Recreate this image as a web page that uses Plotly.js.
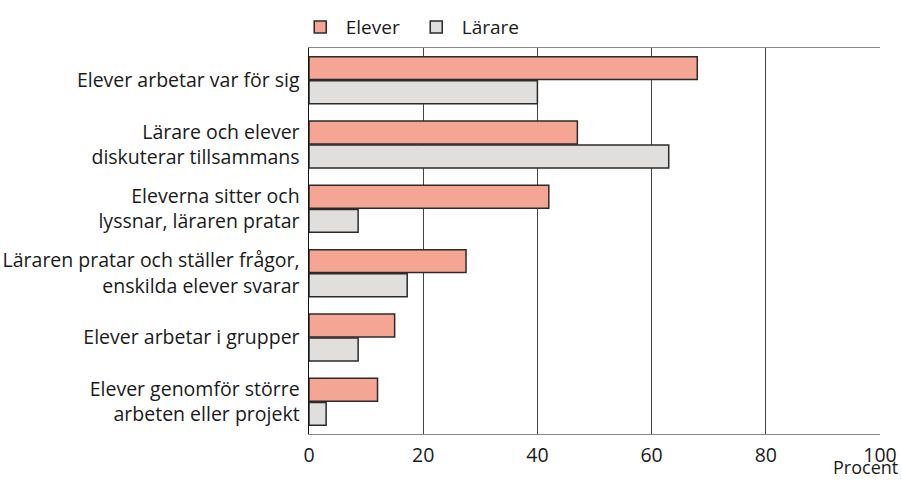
<!DOCTYPE html>
<html>
<head>
<meta charset="utf-8">
<script src="https://cdn.plot.ly/plotly-3.0.1.min.js"></script>
<style>html,body{margin:0;padding:0;background:#fff;}#chart{width:902px;height:481px;}</style>
</head>
<body>
<div id="chart"></div>
<script>
const categories = [
  "Elever arbetar var för sig",
  "Lärare och elever<br>diskuterar tillsammans",
  "Eleverna sitter och<br>lyssnar, läraren pratar",
  "Läraren pratar och ställer frågor,<br>enskilda elever svarar",
  "Elever arbetar i grupper",
  "Elever genomför större<br>arbeten eller projekt"
];
const elever = [68, 47, 42, 27.5, 15, 12];
const larare = [40, 63, 8.6, 17.2, 8.6, 3];
const seriesNames = ["Elever", "Lärare"];
const xTicks = [0, 20, 40, 60, 80, 100];

const font = "'Open Sans', 'Noto Sans', sans-serif";
const traces = [
  {type:'bar', orientation:'h', name:seriesNames[0], y:categories, x:elever,
   marker:{color:'#F4A594', line:{color:'#2b2b2b', width:1.5}}},
  {type:'bar', orientation:'h', name:seriesNames[1], y:categories, x:larare,
   marker:{color:'#E0DFDD', line:{color:'#2b2b2b', width:1.5}}}
];
const layout = {
  width:902, height:481,
  margin:{l:309, r:22, t:48, b:47},
  paper_bgcolor:'#fff', plot_bgcolor:'#fff',
  font:{family:font, size:19, color:'#1a1a1a'},
  barmode:'group', bargap:0.25, bargroupgap:0.05,
  showlegend:true,
  legend:{orientation:'h', x:-0.025, xanchor:'left', yref:'container', y:0.983, yanchor:'top',
          font:{size:19, family:font}, traceorder:'normal', itemwidth:41, entrywidth:60},
  xaxis:{range:[0,100], tickvals:xTicks, ticktext:xTicks.map(String),
         showgrid:true, gridcolor:'#444', gridwidth:1, zeroline:false,
         showline:true, linecolor:'#888', linewidth:1, mirror:true,
         ticks:'', tickfont:{size:19.5}, ticklabelstandoff:4, fixedrange:true},
  yaxis:{autorange:'reversed', showgrid:false, showline:true, linecolor:'#111', linewidth:1.5,
         ticks:'', tickfont:{size:19.5}, ticklabelstandoff:4},
  annotations:[{text:'Procent', xref:'x', yref:'paper', x:100, y:0, xshift:20, yshift:-47,
                xanchor:'right', yanchor:'bottom', showarrow:false, font:{size:18, family:font}}]
};
Plotly.newPlot('chart', traces, layout, {staticPlot:true});
</script>
</body>
</html>
